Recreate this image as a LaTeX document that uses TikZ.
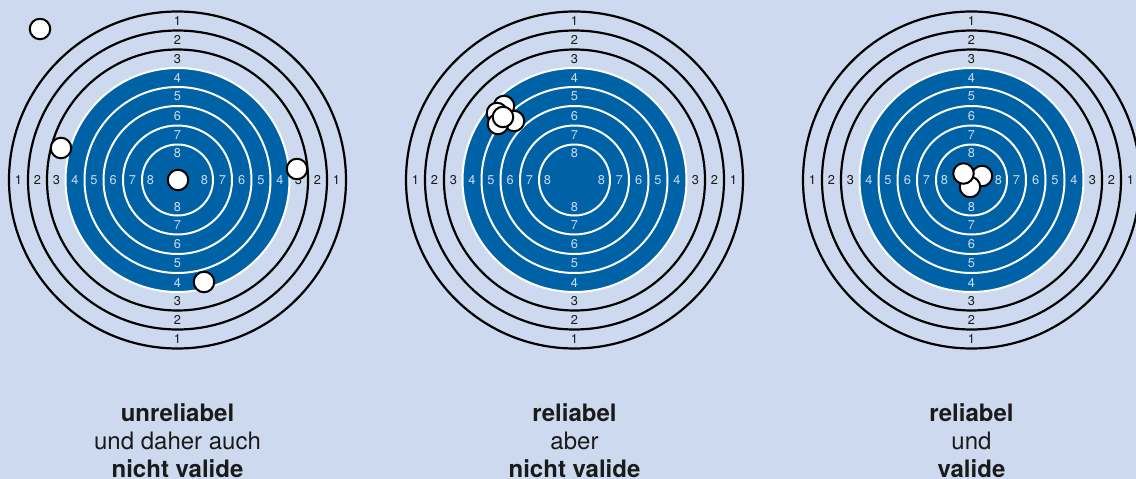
\documentclass[tikz,border=0pt]{standalone}
\usepackage{fontspec}
\setmainfont{TeX Gyre Heros}
\definecolor{bg}{HTML}{CDD9EE}
\definecolor{tblue}{HTML}{0062A6}
\definecolor{ink}{HTML}{1A1A1A}
\tikzset{
  blackring/.style={draw=black, line width=2.2pt},
  whitering/.style={draw=white, line width=2pt},
  ringnum/.style={font=\fontsize{12.8}{12.8}\selectfont, inner sep=0pt},
  darknum/.style={ringnum, text=ink},
  lightnum/.style={ringnum, text=bg},
  shot/.style={circle, draw=black, fill=white, line width=2pt, minimum size=20.5pt, inner sep=0pt},
  caption/.style={font=\fontsize{24}{24}\selectfont, text=ink, anchor=base, inner sep=0pt},
  target/.pic={
    \foreach \r in {168.5,149.5,130.5} \draw[blackring] (0,0) circle[radius=\r];
    \fill[tblue] (0,0) circle[radius=112];
    \foreach \r in {112,93,74,54.5,35.5} \draw[whitering] (0,0) circle[radius=\r];
    \foreach \k/\r/\s in {1/159/darknum,2/140/darknum,3/121/darknum,4/102.5/lightnum,5/83.5/lightnum,6/64.2/lightnum,7/45/lightnum,8/27/lightnum}{
      \node[\s] (n\k t) at (0,-\r) {\k};
      \node[\s] (n\k b) at (0,\r) {\k};
      \node[\s] (n\k l) at (-\r,0) {\k};
      \node[\s] (n\k r) at (\r,0) {\k};
    }
  }
}
\begin{document}
\begin{tikzpicture}[x=1pt,y=-1pt]
\fill[bg] (0,0) rectangle (1136,479);
\useasboundingbox (0,0) rectangle (1136,479);
\pic (ta) at (177.5,180) {target};
\pic (tb) at (574.5,180) {target};
\pic (tc) at (971.5,180) {target};
% shots, target 1
\node[shot] (a1) at (40,29) {};
\node[shot] (a2) at (61,148) {};
\node[shot] (a3) at (297,169) {};
\node[shot] (a4) at (204,282) {};
\node[shot] (a5) at (178,180) {};
% shots, target 2
\node[shot] (b1) at (504,106) {};
\node[shot] (b2) at (497,113) {};
\node[shot] (b3) at (514,121) {};
\node[shot] (b4) at (498,124) {};
\node[shot] (b5) at (503,117) {};
% shots, target 3
\node[shot] (c1) at (982,176) {};
\node[shot] (c2) at (970,187) {};
\node[shot] (c3) at (963.5,173.5) {};
% captions
\node[caption] (ca1) at (177.5,421) {\textbf{unreliabel}};
\node[caption] (ca2) at (177.5,449.5) {und daher auch};
\node[caption] (ca3) at (177.5,477.5) {\textbf{nicht valide}};
\node[caption] (cb1) at (574.5,421) {\textbf{reliabel}};
\node[caption] (cb2) at (574.5,449.5) {aber};
\node[caption] (cb3) at (574.5,477.5) {\textbf{nicht valide}};
\node[caption] (cc1) at (971.5,421) {\textbf{reliabel}};
\node[caption] (cc2) at (971.5,449.5) {und};
\node[caption] (cc3) at (971.5,477.5) {\textbf{valide}};
\end{tikzpicture}
\end{document}
